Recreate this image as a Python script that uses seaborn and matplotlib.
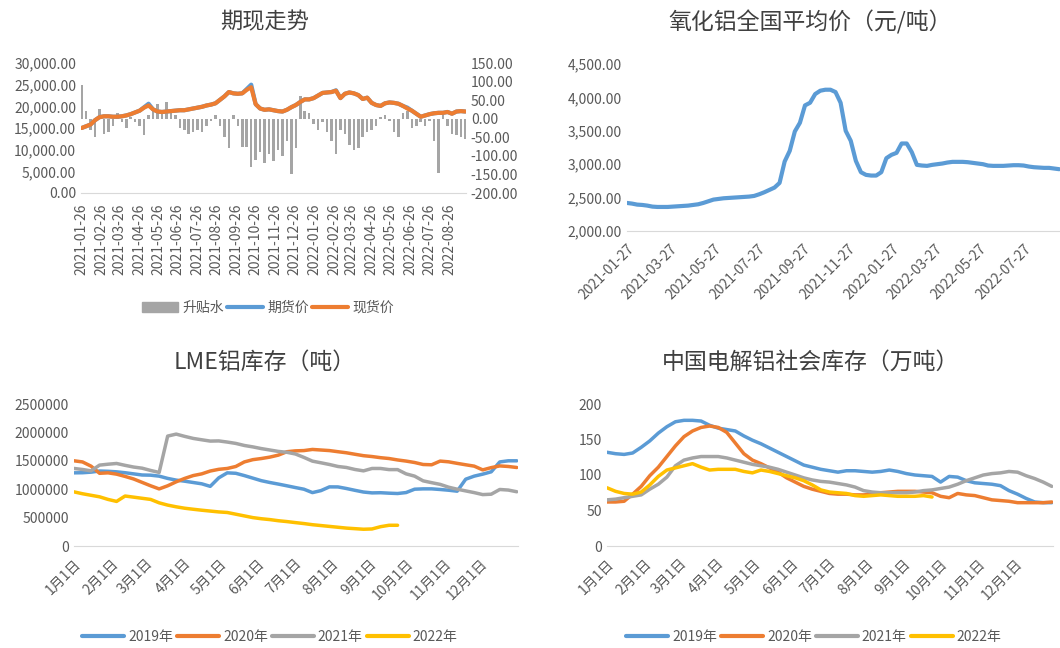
import matplotlib
matplotlib.use("Agg")
from matplotlib import pyplot as plt
from matplotlib.patches import Patch
from matplotlib.lines import Line2D
from matplotlib.ticker import FuncFormatter, MultipleLocator
import pandas as pd
import seaborn as sns

sns.set_style("white")
plt.rcParams['font.family'] = ['Noto Sans CJK SC', 'DejaVu Sans']
plt.rcParams['axes.unicode_minus'] = False

# --- 期现走势 (weekly readings)
basis_dates = pd.date_range("2021-01-26", periods=87, freq="7D")
spot_price = [15000, 15400, 15800, 16800, 17500, 17700, 17700, 17600, 17600, 17700,
              17900, 18200, 18600, 19000, 19700, 20200, 19300, 18800, 18700, 18800,
              18900, 19000, 19100, 19100, 19300, 19500, 19700, 19900, 20200, 20400,
              20700, 21500, 22300, 23300, 23000, 22900, 23000, 23800, 24400, 20500,
              19500, 19200, 19300, 19100, 18900, 18800, 19200, 19800, 20300, 21000,
              21600, 21600, 21900, 22500, 23100, 23200, 23300, 23600, 21900, 22900,
              23200, 23000, 22600, 21700, 22000, 20800, 20300, 20100, 20700, 20900,
              20800, 20600, 20100, 19500, 19000, 18300, 17600, 17900, 18200, 18400,
              18500, 18500, 18700, 18300, 18800, 18900, 18800]
futures_price = [15000, 15400, 15800, 16800, 17500, 17700, 17700, 17600, 17600, 17700,
                 17900, 18200, 18600, 19000, 19800, 20600, 19300, 18800, 18700, 18800,
                 18900, 19000, 19100, 19100, 19300, 19500, 19700, 19900, 20200, 20400,
                 20700, 21500, 22300, 23300, 23000, 22900, 23000, 24000, 25000, 20500,
                 19500, 19200, 19300, 19100, 18900, 18800, 19200, 19800, 20300, 21000,
                 21600, 21600, 21900, 22500, 23100, 23200, 23300, 23700, 21900, 22900,
                 23200, 23000, 22600, 21700, 22000, 20800, 20300, 20100, 20700, 20900,
                 20800, 20600, 20100, 19700, 19000, 18300, 17600, 17900, 18200, 18400,
                 18500, 18500, 18700, 18300, 18800, 18900, 18800]
basis = [90, 20, -30, -50, 25, -40, -35, -20, 15, -10,
         -25, 5, -10, -20, -45, 10, 30, 40, 20, 45,
         20, 10, -25, -30, -40, -35, -30, -35, -20, -5,
         10, -20, -50, -80, 10, -20, -75, -75, -130, -110,
         -90, -120, -95, -115, -85, -100, -60, -150, -80, 60,
         20, 15, -15, -30, -10, -35, -60, -95, -30, -40,
         -70, -85, -80, -50, -35, -30, -20, 5, 10, -5,
         -35, -50, 15, 20, -25, -20, -10, -20, -5, -60,
         -145, 20, -20, -40, -45, -50, -55]

# --- 氧化铝全国平均价
alumina_dates = pd.date_range("2021-01-27", periods=86, freq="7D")
alumina_price = [2420, 2410, 2395, 2390, 2380, 2365, 2360, 2360, 2360, 2365,
                 2370, 2375, 2380, 2390, 2400, 2420, 2445, 2470, 2480, 2490,
                 2495, 2500, 2505, 2510, 2515, 2525, 2550, 2580, 2615, 2650,
                 2720, 3040, 3200, 3490, 3620, 3880, 3920, 4050, 4100, 4115,
                 4115, 4080, 3920, 3500, 3350, 3050, 2880, 2840, 2830, 2830,
                 2880, 3090, 3140, 3170, 3310, 3310, 3180, 2990, 2980, 2975,
                 2990, 3000, 3010, 3025, 3035, 3035, 3035, 3030, 3020, 3010,
                 3000, 2980, 2975, 2975, 2975, 2980, 2985, 2985, 2980, 2965,
                 2955, 2950, 2945, 2945, 2935, 2925]

# --- seasonal charts, one value per week of the year
week_days = list(range(0, 365, 7))
month_days = [0, 31, 59, 90, 120, 151, 181, 212, 243, 273, 304, 334]
month_labels = ["1月1日", "2月1日", "3月1日", "4月1日", "5月1日", "6月1日",
                "7月1日", "8月1日", "9月1日", "10月1日", "11月1日", "12月1日"]
years = ["2019年", "2020年", "2021年", "2022年"]
year_colors = ["#5B9BD5", "#ED7D31", "#A5A5A5", "#FFC000"]

lme_2019 = [1288000, 1290000, 1300000, 1320000, 1315000, 1306000, 1290000, 1270000, 1250000, 1247000,
            1230000, 1190000, 1160000, 1141000, 1118000, 1095000, 1050000, 1200000, 1288000, 1280000,
            1240000, 1195000, 1150000, 1118000, 1090000, 1060000, 1029000, 1000000, 940000, 975000,
            1041000, 1040000, 1012000, 980000, 950000, 935000, 938000, 930000, 924000, 941000,
            1000000, 1006000, 1006000, 995000, 982000, 965000, 1176000, 1230000, 1265000, 1306000,
            1480000, 1500000, 1500000]
lme_2020 = [1500000, 1480000, 1406000, 1280000, 1288000, 1265000, 1225000, 1180000, 1120000, 1060000,
            1005000, 1060000, 1130000, 1190000, 1240000, 1270000, 1320000, 1350000, 1365000, 1400000,
            1480000, 1520000, 1540000, 1565000, 1600000, 1660000, 1675000, 1680000, 1700000, 1690000,
            1680000, 1660000, 1641000, 1615000, 1590000, 1575000, 1555000, 1540000, 1515000, 1495000,
            1470000, 1435000, 1430000, 1495000, 1482000, 1455000, 1430000, 1406000, 1340000, 1380000,
            1410000, 1400000, 1382000]
lme_2021 = [1365000, 1347000, 1323000, 1424000, 1440000, 1453000, 1420000, 1390000, 1370000, 1330000,
            1295000, 1935000, 1970000, 1930000, 1894000, 1870000, 1847000, 1850000, 1830000, 1806000,
            1770000, 1745000, 1715000, 1690000, 1665000, 1650000, 1620000, 1560000, 1494000, 1465000,
            1435000, 1400000, 1382000, 1347000, 1323000, 1365000, 1365000, 1345000, 1345000, 1270000,
            1230000, 1147000, 1115000, 1085000, 1035000, 1000000, 970000, 940000, 905000, 912000,
            995000, 985000, 955000]
lme_2022 = [953000, 920000, 893000, 866000, 820000, 785000, 880000, 860000, 840000, 820000,
            760000, 720000, 690000, 665000, 647000, 630000, 615000, 600000, 590000, 560000,
            530000, 500000, 480000, 465000, 445000, 430000, 412000, 395000, 375000, 360000,
            345000, 330000, 315000, 305000, 295000, 300000, 340000, 365000, 365000]

soc_2019 = [132, 130, 129, 131, 139, 148, 159, 168, 175, 177,
            177, 176, 170, 166, 164, 162, 155, 149, 144, 138,
            132, 126, 120, 114, 111, 108, 106, 104, 106, 106,
            105, 104, 105, 107, 105, 102, 100, 99, 98, 90,
            98, 97, 92, 89, 88, 87, 85, 78, 73, 67,
            62, 61, 61]
soc_2020 = [62, 62, 63, 73, 84, 99, 111, 126, 141, 154,
            162, 167, 169, 167, 160, 145, 130, 121, 116, 110,
            104, 96, 90, 84, 80, 77, 74, 73, 73, 72,
            72, 73, 75, 76, 77, 77, 77, 76, 75, 70,
            68, 74, 72, 71, 68, 65, 64, 63, 61, 61,
            61, 61, 62]
soc_2021 = [65, 66, 68, 70, 72, 80, 87, 97, 113, 121,
            124, 126, 126, 126, 124, 121, 118, 115, 113, 111,
            108, 104, 100, 96, 93, 91, 90, 88, 86, 83,
            78, 76, 75, 75, 75, 75, 76, 78, 79, 81,
            83, 87, 92, 96, 100, 102, 103, 105, 104, 99,
            95, 90, 84]
soc_2022 = [82, 77, 74, 73, 76, 86, 98, 107, 110, 113,
            116, 111, 107, 108, 108, 108, 105, 103, 107, 105,
            102, 99, 96, 92, 86, 79, 76, 75, 74, 71,
            70, 71, 72, 71, 70, 70, 70, 71, 69]

TICK = "#595959"
AXIS = "#D9D9D9"
TITLE = "#404040"
W, H = 1060, 648


def season_frame(series):
    parts = []
    for year, vals in zip(years, series):
        parts.append(pd.DataFrame({"day": week_days[:len(vals)], "value": vals, "year": year}))
    return pd.concat(parts, ignore_index=True)


def style_axis(ax):
    for s in ["top", "right", "left"]:
        ax.spines[s].set_visible(False)
    ax.spines["bottom"].set_color(AXIS)
    ax.tick_params(axis="x", labelcolor=TICK, color=AXIS, length=4, width=1, labelsize=10)
    ax.tick_params(axis="y", labelcolor=TICK, length=0, labelsize=10)
    ax.grid(False)
    ax.set_xlabel("")
    ax.set_ylabel("")


def box(l, t, r, b):
    # pixel box -> figure fraction
    return [l / W, 1 - b / H, (r - l) / W, (b - t) / H]


fig = plt.figure(figsize=(10.6, 6.48), dpi=100)

# ---------- panel 1: 期现走势
ax_b = fig.add_axes(box(81, 63, 466, 193))
ax_b.bar(basis_dates, basis, width=4, color="#A5A5A5", linewidth=0)
ax_p = ax_b.twinx()
sns.lineplot(x=basis_dates, y=futures_price, ax=ax_p, color="#5B9BD5", lw=3)
sns.lineplot(x=basis_dates, y=spot_price, ax=ax_p, color="#ED7D31", lw=3)
ax_b.yaxis.tick_right()
ax_p.yaxis.tick_left()
ax_b.set_ylim(-200, 150)
ax_b.yaxis.set_major_locator(MultipleLocator(50))
ax_b.yaxis.set_major_formatter(FuncFormatter(lambda v, p: f"{v:.2f}"))
ax_p.set_ylim(0, 30000)
ax_p.yaxis.set_major_locator(MultipleLocator(5000))
ax_p.yaxis.set_major_formatter(FuncFormatter(lambda v, p: f"{v:,.2f}"))
style_axis(ax_b)
style_axis(ax_p)
ax_p.spines["bottom"].set_visible(False)
ticks1 = pd.date_range("2021-01-26", "2022-08-26", freq=pd.DateOffset(months=1))
ax_b.set_xticks(ticks1)
ax_b.set_xticklabels([d.strftime("%Y-%m-%d") for d in ticks1], rotation=90)
ax_b.set_xlim(pd.Timestamp("2021-01-25"), pd.Timestamp("2022-09-21"))
fig.text(265 / W, 1 - 22 / H, "期现走势", ha="center", va="center", fontsize=16, color=TITLE)
h1 = [Patch(color="#A5A5A5"), Line2D([], [], color="#5B9BD5", lw=3), Line2D([], [], color="#ED7D31", lw=3)]
fig.legend(h1, ["升贴水", "期货价", "现货价"], loc="center", bbox_to_anchor=(268 / W, 1 - 308 / H),
           ncol=3, frameon=False, fontsize=10, labelcolor=TICK, handlelength=2.6,
           handletextpad=0.3, columnspacing=0.2)

# ---------- panel 2: 氧化铝
ax2 = fig.add_axes(box(627, 64, 1060, 231))
sns.lineplot(x=alumina_dates, y=alumina_price, ax=ax2, color="#5B9BD5", lw=3)
ax2.set_ylim(2000, 4500)
ax2.yaxis.set_major_locator(MultipleLocator(500))
ax2.yaxis.set_major_formatter(FuncFormatter(lambda v, p: f"{v:,.2f}"))
style_axis(ax2)
ticks2 = pd.date_range("2021-01-27", "2022-07-27", freq=pd.DateOffset(months=2))
ax2.set_xticks(ticks2)
ax2.set_xticklabels([d.strftime("%Y-%m-%d") for d in ticks2], rotation=45, ha="right",
                    rotation_mode="anchor")
ax2.set_xlim(pd.Timestamp("2021-01-27"), pd.Timestamp("2022-09-15"))
fig.text(810 / W, 1 - 22 / H, "氧化铝全国平均价（元/吨）", ha="center", va="center",
         fontsize=16.5, color=TITLE)

# ---------- panels 3 & 4: seasonal inventories
palette = dict(zip(years, year_colors))
season_panels = [
    (box(74, 404, 518, 546), [lme_2019, lme_2020, lme_2021, lme_2022], 2500000, 500000,
     "LME铝库存（吨）", 265, 270),
    (box(607, 404, 1053, 546), [soc_2019, soc_2020, soc_2021, soc_2022], 200, 50,
     "中国电解铝社会库存（万吨）", 811, 814),
]
for rect, series, ymax, step, title, tx, lx in season_panels:
    ax = fig.add_axes(rect)
    df = season_frame(series)
    sns.lineplot(data=df, x="day", y="value", hue="year", palette=palette, lw=2.5,
                 ax=ax, legend=False)
    ax.set_ylim(0, ymax)
    ax.yaxis.set_major_locator(MultipleLocator(step))
    ax.yaxis.set_major_formatter(FuncFormatter(lambda v, p: f"{v:.0f}"))
    ax.set_xlim(0, 365)
    style_axis(ax)
    ax.set_xticks(month_days + [365])
    ax.set_xticklabels(month_labels + [""], rotation=45, ha="right", rotation_mode="anchor")
    fig.text(tx / W, 1 - 362 / H, title, ha="center", va="center", fontsize=16.5, color=TITLE)
    hs = [Line2D([], [], color=c, lw=3) for c in year_colors]
    fig.legend(hs, years, loc="center", bbox_to_anchor=(lx / W, 1 - 637 / H), ncol=4,
               frameon=False, fontsize=10, labelcolor=TICK, handlelength=3,
               handletextpad=0.3, columnspacing=0.3)

fig.savefig("out.png", dpi=100)
